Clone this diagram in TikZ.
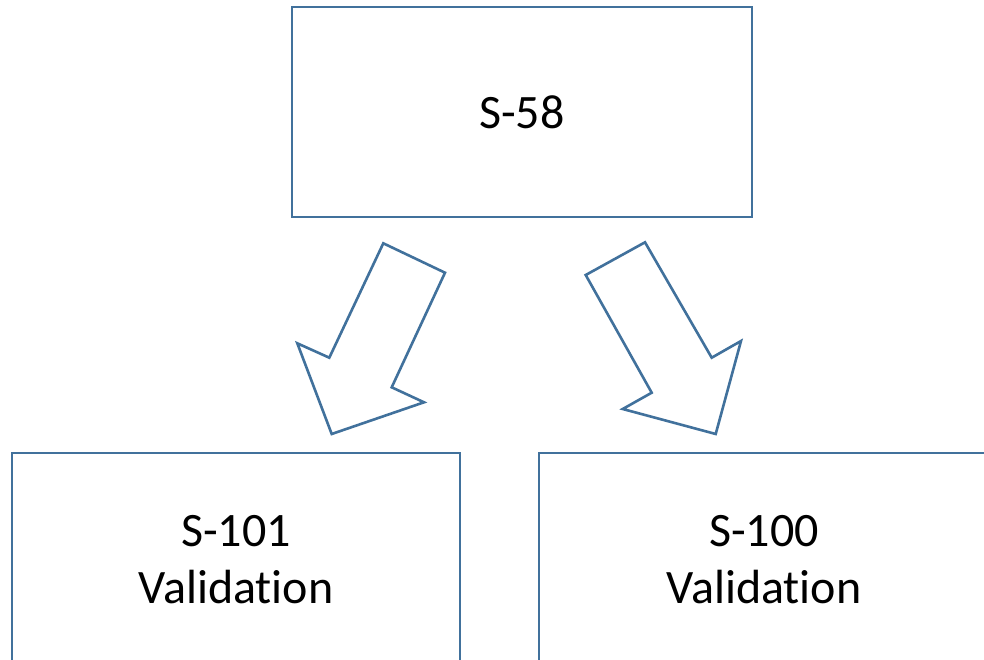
\documentclass[tikz,border=0pt]{standalone}
\usepackage{fontspec}
\setmainfont{Carlito}[Ligatures={NoCommon,NoContextual}]
\definecolor{outl}{HTML}{41719C}
\begin{document}
\begin{tikzpicture}[x=1pt,y=-1pt,
  box/.style={draw=outl,line width=2.6pt,fill=white,minimum width=460pt,minimum height=210pt,inner sep=0pt,align=center,font=\fontsize{48}{57}\selectfont},
  blockarrow/.style={draw=outl,line width=2.6pt,line join=miter,fill=white}]
\useasboundingbox (0,0) rectangle (984,660);
\clip (0,0) rectangle (984,660);
\node[box] (top) at (522,112) {S-58};
\node[box,minimum width=448pt,minimum height=214pt] (left) at (236,560) {S-101\\Validation};
\node[box,minimum width=460pt,minimum height=214pt] (right) at (769,560) {};
\node[font=\fontsize{48}{57}\selectfont,align=center,inner sep=0pt] (rtext) at (764,560) {S-100\\Validation};
\draw[blockarrow] (383.3,243.3) -- (445,272.7) -- (391.7,387.3) -- (424,402.3) -- (331.7,434) -- (297.3,343.3) -- (329.3,357.7) -- cycle;
\draw[blockarrow] (645,242.3) -- (585.7,275) -- (651.7,392.7) -- (622.7,409) -- (715.7,434) -- (741,341) -- (711.7,357.7) -- cycle;
\end{tikzpicture}
\end{document}
